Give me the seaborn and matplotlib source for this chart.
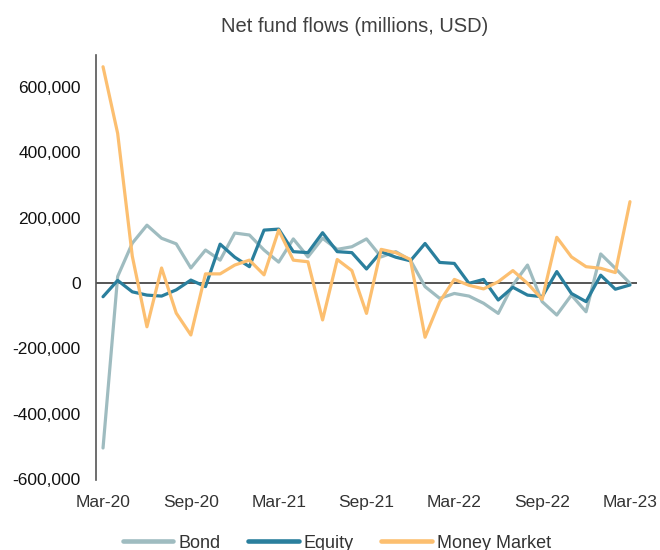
import numpy as np
import pandas as pd
import matplotlib
matplotlib.use("Agg")
import matplotlib.pyplot as plt
import seaborn as sns
from matplotlib.lines import Line2D

months = pd.date_range("2020-03-01", periods=37, freq="MS").strftime("%b-%y").tolist()

bond = [-505000, 20000, 122000, 177000, 137000, 120000, 46000, 101000, 70000, 153000,
        147000, 101000, 64000, 135000, 80000, 137000, 103000, 111000, 135000, 80000,
        96000, 70000, -11000, -47000, -32000, -40000, -62000, -93000, -6000, 55000,
        -57000, -98000, -37000, -88000, 89000, 45000, -1000]

equity = [-42000, 8000, -27000, -37000, -40000, -21000, 9000, -11000, 119000, 79000,
          50000, 162000, 165000, 96000, 93000, 154000, 96000, 93000, 43000, 96000,
          79000, 68000, 121000, 63000, 60000, -1000, 11000, -52000, -13000, -37000,
          -42000, 35000, -32000, -57000, 24000, -19000, -6000]

money_market = [662000, 458000, 82000, -134000, 46000, -92000, -159000, 28000, 28000, 55000,
                70000, 25000, 162000, 70000, 65000, -113000, 72000, 38000, -93000, 103000,
                93000, 72000, -166000, -57000, 11000, -7000, -18000, 4000, 38000, -1000,
                -50000, 140000, 80000, 50000, 45000, 32000, 249000]

series_names = ["Bond", "Equity", "Money Market"]
tick_labels = ["Mar-20", "Sep-20", "Mar-21", "Sep-21", "Mar-22", "Sep-22", "Mar-23"]
y_ticks = [-600000, -400000, -200000, 0, 200000, 400000, 600000]

df = pd.DataFrame({"idx": np.arange(len(months)), "month": months,
                   "Bond": bond, "Equity": equity, "Money Market": money_market})
long = df.melt(id_vars=["idx", "month"], value_vars=series_names,
               var_name="Fund", value_name="Flow")

sns.set_theme(style="white")
plt.rcParams["font.family"] = ["Liberation Sans", "DejaVu Sans"]

fig = plt.figure(figsize=(6.6, 5.5), dpi=100)
ax = fig.add_axes([96 / 660, 1 - 480 / 550, (637 - 96) / 660, (480 - 55) / 550])

palette = {"Bond": "#9fbcc0", "Equity": "#2a7f9d", "Money Market": "#fcbf70"}
ax.axhline(0, color="#555555", lw=1.4, zorder=1)
sns.lineplot(data=long, x="idx", y="Flow", hue="Fund", palette=palette,
             linewidth=2.3, ax=ax, legend=False, zorder=3)

ax.set_xlim(-0.48, len(months) - 1 + 0.48)
ax.set_ylim(-603000, 698000)
ax.set_xticks([months.index(t) for t in tick_labels])
ax.set_xticklabels(tick_labels)
ax.set_yticks(y_ticks)
ax.set_yticklabels([f"{v:,}" for v in y_ticks])
ax.set_xlabel("")
ax.set_ylabel("")
for s in ["top", "right", "bottom"]:
    ax.spines[s].set_visible(False)
ax.spines["left"].set_color("#555555")
ax.spines["left"].set_linewidth(1.2)
ax.tick_params(axis="x", length=0, pad=11, labelsize=12.5, labelcolor="#333333")
ax.tick_params(axis="y", length=0, pad=11, labelsize=12.5, labelcolor="#111111")

fig.text(355 / 660, 1 - 27 / 550, "Net fund flows (millions, USD)", ha="center",
         va="center", fontsize=14.5, color="#404040")

handles = [Line2D([0], [0], color=palette[n], lw=3.3) for n in series_names]
fig.legend(handles, series_names, loc="center", bbox_to_anchor=(337 / 660, 1 - 543 / 550),
           ncol=3, frameon=False, fontsize=13, handlelength=2.8, handletextpad=0.3,
           columnspacing=1.5, labelcolor="#333333")

fig.savefig("out.png", dpi=100)
